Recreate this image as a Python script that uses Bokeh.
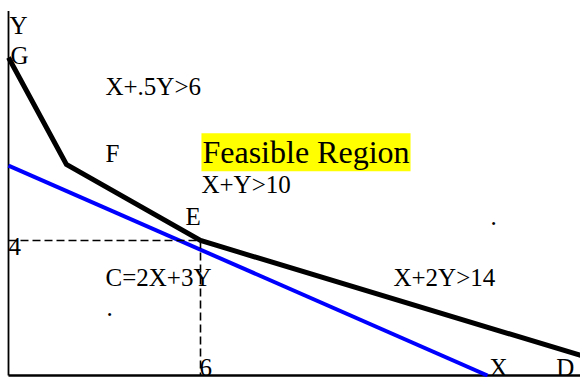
from bokeh.plotting import figure
from bokeh.models import Range1d
from bokeh.core.properties import value
from bokeh.embed import file_html
from bokeh.resources import INLINE

# Lower boundary of the feasible region: corners G, F, E and on toward D
bound_x = [0.0, 1.81, 6.0, 17.9]
bound_y = [9.42, 6.25, 4.0, 0.59]

# Iso-cost line C = 2X + 3Y touching the region near E
cost_x = [0.0, 14.97]
cost_y = [6.22, 0.0]

# Optimum corner E and its coordinate tick labels
opt_x = 6
opt_y = 4

# Axis extents
axis_top = 10.8
axis_right = 17.9

# Annotation texts (x, baseline y)
labels = ["Y", "G", "X+.5Y>6", "F", "X+Y>10", "E", "4", "C=2X+3Y", ".",
          "6", "X+2Y>14", ".", "X", "D"]
label_x = [0.03, 0.06, 3.03, 3.03, 6.03, 5.53, 0.0, 3.03, 3.06,
           5.97, 12.03, 15.06, 15.03, 17.12]
label_y = [10.07, 9.19, 8.27, 6.28, 5.35, 4.41, 3.53, 2.61, 1.72,
           -0.06, 2.61, 4.41, -0.06, -0.06]

title_text = "Feasible Region"
title_x = 6.03
title_y = 6.32

p = figure(width=580, height=377, output_backend="svg", toolbar_location=None,
           x_range=Range1d(-0.25, 17.875), y_range=Range1d(-0.059, 11.11),
           min_border=0, min_border_left=0, min_border_right=0,
           min_border_top=0, min_border_bottom=0)
p.axis.visible = False
p.grid.visible = False
p.outline_line_color = None
p.background_fill_color = "white"
p.border_fill_color = "white"

font = value("Liberation Serif, Times New Roman, serif")

# Axes drawn as plain lines
p.line([0, 0], [0, axis_top], line_color="black", line_width=1.8)
p.line([0, axis_right], [0, 0], line_color="black", line_width=2.6)

# Constraint boundary and cost line
p.line(cost_x, cost_y, line_color="#0000ff", line_width=4)
p.line(bound_x, bound_y, line_color="black", line_width=5, line_join="miter")

# Dashed guides to the optimum
p.line([0, opt_x], [opt_y, opt_y], line_color="black", line_width=1.6, line_dash="8 4")
p.line([opt_x, opt_x], [opt_y, 0], line_color="black", line_width=1.6, line_dash="8 4")

p.text(x=label_x, y=label_y, text=labels, text_font=font, text_font_size="25px",
       text_color="black", text_baseline="alphabetic", text_align="left",
       y_offset=-10)

p.text(x=[title_x], y=[title_y], text=[title_text], text_font=font,
       text_font_size="32px", text_color="black", text_baseline="alphabetic",
       text_align="left", background_fill_color="#ffff00", padding=1,
       y_offset=-10)

open("out.html", "w").write(file_html(p, INLINE))
